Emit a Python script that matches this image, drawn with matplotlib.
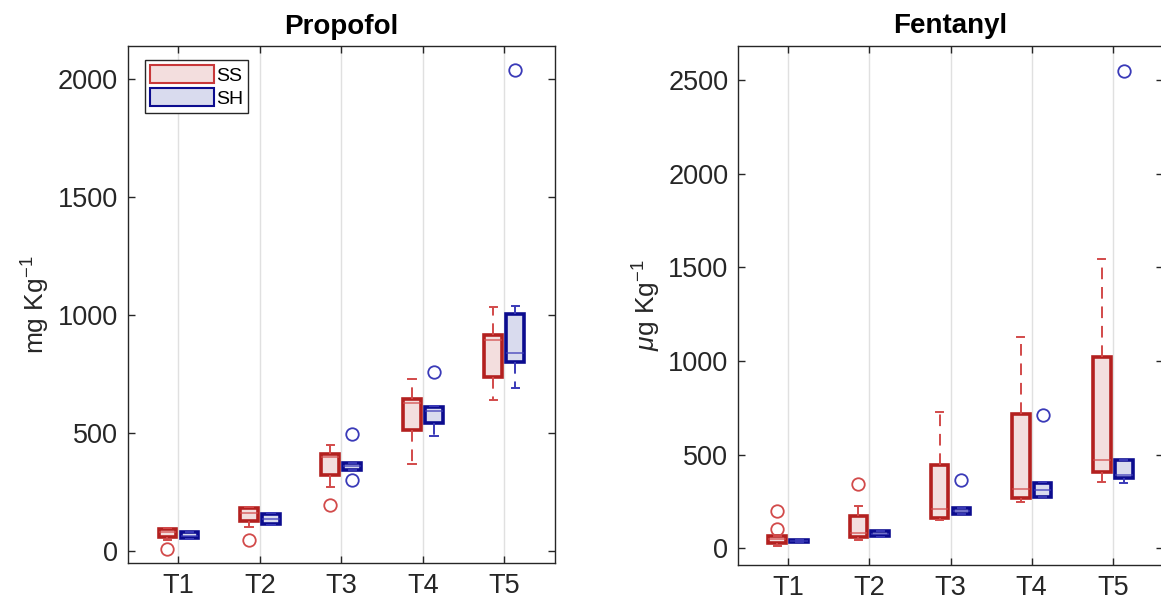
import numpy as np
import matplotlib.pyplot as plt
from matplotlib.patches import Patch

plt.rcParams['font.family'] = ['Liberation Sans', 'DejaVu Sans']
plt.rcParams['mathtext.fontset'] = 'custom'
plt.rcParams['mathtext.rm'] = 'Liberation Sans'
plt.rcParams['mathtext.it'] = 'Liberation Sans:italic'

# ===============================
# Data
# ===============================
times = ['T1', 'T2', 'T3', 'T4', 'T5']
groups = ['SS', 'SH']

# Propofol (mg Kg^-1)
prop_ss_whislo = [48, 104, 273, 370, 641]
prop_ss_q1 = [62, 128, 325, 512, 737]
prop_ss_med = [80, 163, 400, 627, 895]
prop_ss_q3 = [96, 184, 413, 645, 916]
prop_ss_whishi = [100, 188, 451, 729, 1035]
prop_ss_fliers = [[8], [48], [195], [], []]

prop_sh_whislo = [50, 112, 343, 487, 691]
prop_sh_q1 = [54, 114, 343, 543, 803]
prop_sh_med = [65, 135, 360, 592, 838]
prop_sh_q3 = [81, 159, 374, 613, 1004]
prop_sh_whishi = [82, 160, 374, 614, 1039]
prop_sh_fliers = [[], [], [497, 300], [761], [2038]]

# Fentanyl (ug Kg^-1)
fent_ss_whislo = [9, 44, 148, 246, 353]
fent_ss_q1 = [27, 59, 161, 268, 405]
fent_ss_med = [48, 80, 210, 316, 469]
fent_ss_q3 = [66, 169, 446, 718, 1023]
fent_ss_whishi = [66, 227, 727, 1128, 1544]
fent_ss_fliers = [[103, 196], [343], [], [], []]

fent_sh_whislo = [30, 59, 180, 273, 348]
fent_sh_q1 = [30, 62, 182, 275, 372]
fent_sh_med = [37, 75, 197, 310, 393]
fent_sh_q3 = [45, 90, 212, 350, 469]
fent_sh_whishi = [45, 92, 214, 353, 470]
fent_sh_fliers = [[], [], [366], [710], [2550]]

red_edge = '#b3201f'
red_light = '#d24a4a'
red_fill = '#f3dede'
blue_edge = '#0c0c8f'
blue_light = '#3a3ab8'
blue_fill = '#d9dbee'


def make_stats(whislo, q1, med, q3, whishi, fliers):
    out = []
    for i in range(len(med)):
        out.append({'whislo': whislo[i], 'q1': q1[i], 'med': med[i], 'q3': q3[i],
                    'whishi': whishi[i], 'fliers': fliers[i]})
    return out


def draw_group(ax, stats, offset, edge, light, fill):
    pos = np.arange(1, len(stats) + 1) + offset
    ax.bxp(stats, positions=pos, widths=0.22, patch_artist=True, showfliers=True,
           capwidths=0.09, manage_ticks=False,
           boxprops=dict(facecolor=fill, edgecolor=edge, linewidth=2.6),
           medianprops=dict(color=light, linewidth=1.3, alpha=0.7),
           whiskerprops=dict(color=light, linewidth=1.4, linestyle=(0, (6, 4))),
           capprops=dict(color=light, linewidth=1.4),
           flierprops=dict(marker='o', markersize=9, markerfacecolor='none',
                           markeredgecolor=light, markeredgewidth=1.3))


def style_axis(ax, title, ylabel, ylim, yticks):
    ax.set_xlim(0.38, 5.62)
    ax.set_ylim(*ylim)
    ax.set_xticks(range(1, len(times) + 1))
    ax.set_xticklabels(times)
    ax.set_yticks(yticks)
    ax.grid(axis='x', color='#e0e0e0', linewidth=1)
    ax.set_axisbelow(True)
    ax.tick_params(direction='in', length=5, width=1, top=True, right=True,
                   labelsize=19.5, colors='#262626', pad=7)
    for s in ax.spines.values():
        s.set_color('#262626')
        s.set_linewidth(1)
    ax.set_title(title, fontsize=20, fontweight='bold', pad=9)
    ax.set_ylabel(ylabel, fontsize=19, color='#262626', labelpad=4)


fig = plt.figure(figsize=(11.61, 6.10), dpi=100)
ax1 = fig.add_axes([0.1102, 0.077, 0.3678, 0.8475])
ax2 = fig.add_axes([0.6357, 0.074, 0.3660, 0.8508])

draw_group(ax1, make_stats(prop_ss_whislo, prop_ss_q1, prop_ss_med, prop_ss_q3, prop_ss_whishi, prop_ss_fliers),
           -0.135, red_edge, red_light, red_fill)
draw_group(ax1, make_stats(prop_sh_whislo, prop_sh_q1, prop_sh_med, prop_sh_q3, prop_sh_whishi, prop_sh_fliers),
           0.135, blue_edge, blue_light, blue_fill)
style_axis(ax1, 'Propofol', 'mg Kg$^{-1}$', (-50, 2140), [0, 500, 1000, 1500, 2000])

draw_group(ax2, make_stats(fent_ss_whislo, fent_ss_q1, fent_ss_med, fent_ss_q3, fent_ss_whishi, fent_ss_fliers),
           -0.135, red_edge, red_light, red_fill)
draw_group(ax2, make_stats(fent_sh_whislo, fent_sh_q1, fent_sh_med, fent_sh_q3, fent_sh_whishi, fent_sh_fliers),
           0.135, blue_edge, blue_light, blue_fill)
style_axis(ax2, 'Fentanyl', '$\\mu$g Kg$^{-1}$', (-90, 2685), [0, 500, 1000, 1500, 2000, 2500])

handles = [Patch(facecolor=red_fill, edgecolor='#c8383a', linewidth=1.5),
           Patch(facecolor=blue_fill, edgecolor=blue_edge, linewidth=1.5)]
leg = ax1.legend(handles, groups, loc='upper left', bbox_to_anchor=(0.04, 0.973),
                 fontsize=14, handlelength=3.3, handleheight=1.05, handletextpad=0.1,
                 borderpad=0.25, labelspacing=0.2, borderaxespad=0, fancybox=False,
                 framealpha=1, edgecolor='#262626')
leg.get_frame().set_linewidth(1)

fig.savefig('out.png', dpi=100)
